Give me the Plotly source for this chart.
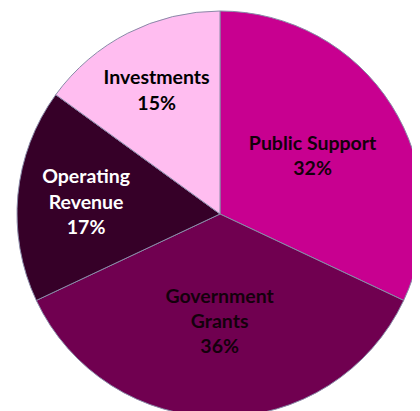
import plotly.graph_objects as go

labels = ["Public Support", "Government<br>Grants", "Operating<br>Revenue", "Investments"]
values = [32, 36, 17, 15]
colors = ["#C80090", "#700050", "#360028", "#FFBDF0"]
text_colors = ["#14000c", "#14000c", "#ffffff", "#000000"]

fig = go.Figure(
    go.Pie(
        labels=labels,
        values=values,
        sort=False,
        direction="clockwise",
        rotation=0,
        marker=dict(colors=colors, line=dict(color="#8a8aa8", width=1)),
        texttemplate="%{label}<br>%{value}%",
        textposition="inside",
        insidetextorientation="horizontal",
        insidetextfont=dict(family="Lato", size=19.5, color=text_colors, weight="bold"),
        hoverinfo="label+percent",
        showlegend=False,
        domain=dict(x=[9 / 420, 415 / 420], y=[2 / 411, 408 / 411]),
    )
)

fig.update_layout(
    width=420,
    height=411,
    margin=dict(l=0, r=0, t=0, b=0),
    paper_bgcolor="white",
    plot_bgcolor="white",
    font=dict(family="Lato"),
    uniformtext=dict(minsize=19, mode="show"),
)

fig.write_html("out.html")
